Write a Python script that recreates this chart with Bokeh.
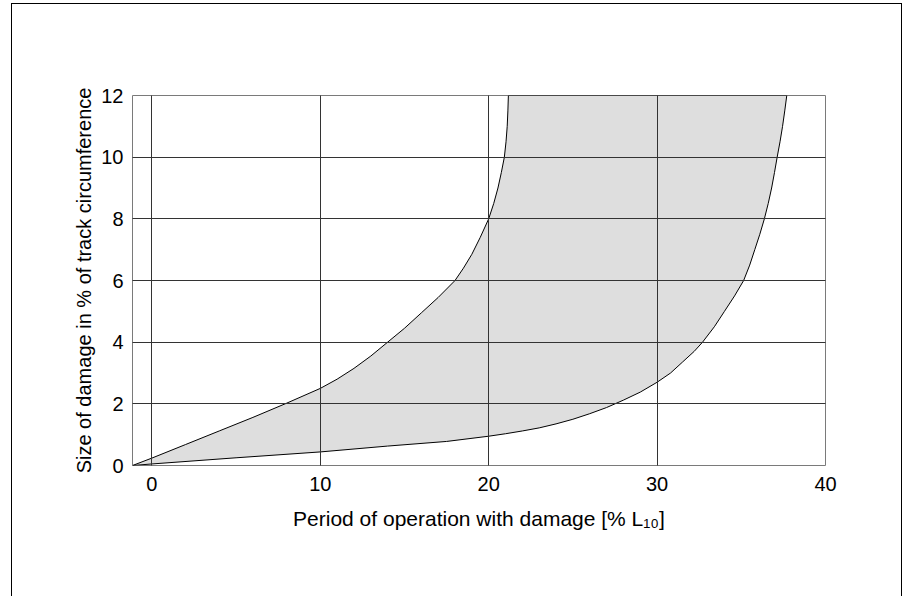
from bokeh.plotting import figure
from bokeh.models import Range1d, FixedTicker
from bokeh.embed import file_html
from bokeh.resources import INLINE

# ---- data ----
x_ticks = [0, 10, 20, 30, 40]
y_ticks = [0, 2, 4, 6, 8, 10, 12]

# left / upper boundary of the damage band
upper_x = [-1.15, 0, 2, 4, 6, 8, 10, 11, 12, 13, 14, 15, 16, 17, 18, 18.5, 19, 19.5,
           20, 20.3, 20.55, 20.75, 20.93, 21.03, 21.1, 21.14, 21.17]
upper_y = [0, 0.24, 0.68, 1.12, 1.56, 2.02, 2.5, 2.8, 3.15, 3.55, 4.0, 4.45, 4.95, 5.45, 6.0, 6.4, 6.85, 7.4,
           8.0, 8.5, 9.0, 9.5, 10.0, 10.5, 11.0, 11.5, 12.0]

# right / lower boundary of the damage band
lower_x = [-1.15, 0, 5, 10, 14, 17.5, 20, 21, 22, 23, 24, 25, 26, 27, 27.5, 28, 29, 30, 30.8, 31.5, 32.2,
           32.7, 33.4, 34, 34.6, 35.14, 35.5, 35.8, 36.1, 36.37, 36.6, 36.8, 36.97, 37.13, 37.3, 37.45, 37.58, 37.7]
lower_y = [0, 0.05, 0.25, 0.44, 0.63, 0.78, 0.95, 1.03, 1.12, 1.22, 1.35, 1.5, 1.68, 1.88, 2.0, 2.12, 2.38, 2.7, 3.0, 3.35, 3.7,
           4.0, 4.5, 5.0, 5.5, 6.0, 6.5, 7.0, 7.5, 8.0, 8.5, 9.0, 9.5, 10.0, 10.5, 11.0, 11.5, 12.0]

x_label = "Period of operation with damage [% L\u2081\u2080]"
y_label = "Size of damage in % of track circumference"

FONT = "Liberation Sans"

p = figure(width=891, height=593, output_backend="svg", toolbar_location=None,
           x_range=Range1d(-1.15, 40), y_range=Range1d(0, 12),
           min_border_left=120, min_border_right=78,
           min_border_top=91, min_border_bottom=132)
p.margin = (3, 0, 0, 11)
p.styles = {"border-top": "1px solid black", "border-left": "1px solid black",
            "border-right": "1px solid black"}

band_x = upper_x + lower_x[::-1]
band_y = upper_y + lower_y[::-1]
p.patch(band_x, band_y, fill_color="#dedede", line_color="black", line_width=1)

# grid
p.xgrid.ticker = FixedTicker(ticks=x_ticks)
p.ygrid.ticker = FixedTicker(ticks=y_ticks)
for g in (p.xgrid, p.ygrid):
    g.grid_line_color = "#333333"
    g.grid_line_width = 1
    g.grid_line_alpha = 1
    g.level = "overlay"

p.outline_line_color = "#7a7a7a"
p.outline_line_width = 1

p.xaxis.ticker = FixedTicker(ticks=x_ticks)
p.yaxis.ticker = FixedTicker(ticks=y_ticks)
for ax in (p.xaxis, p.yaxis):
    ax.axis_line_color = None
    ax.major_tick_line_color = None
    ax.minor_tick_line_color = None
    ax.major_label_text_font = FONT
    ax.major_label_text_font_size = "20px"
    ax.major_label_text_color = "black"
    ax.axis_label_text_font = FONT
    ax.axis_label_text_font_style = "normal"
    ax.axis_label_text_color = "black"

p.xaxis.axis_label_text_font_size = "21px"
p.yaxis.axis_label_text_font_size = "20px"
p.xaxis.axis_label = x_label
p.yaxis.axis_label = y_label
p.xaxis.major_label_standoff = 5
p.yaxis.major_label_standoff = 3
p.xaxis.axis_label_standoff = 13
p.yaxis.axis_label_standoff = 3

open("out.html", "w").write(file_html(p, INLINE))
